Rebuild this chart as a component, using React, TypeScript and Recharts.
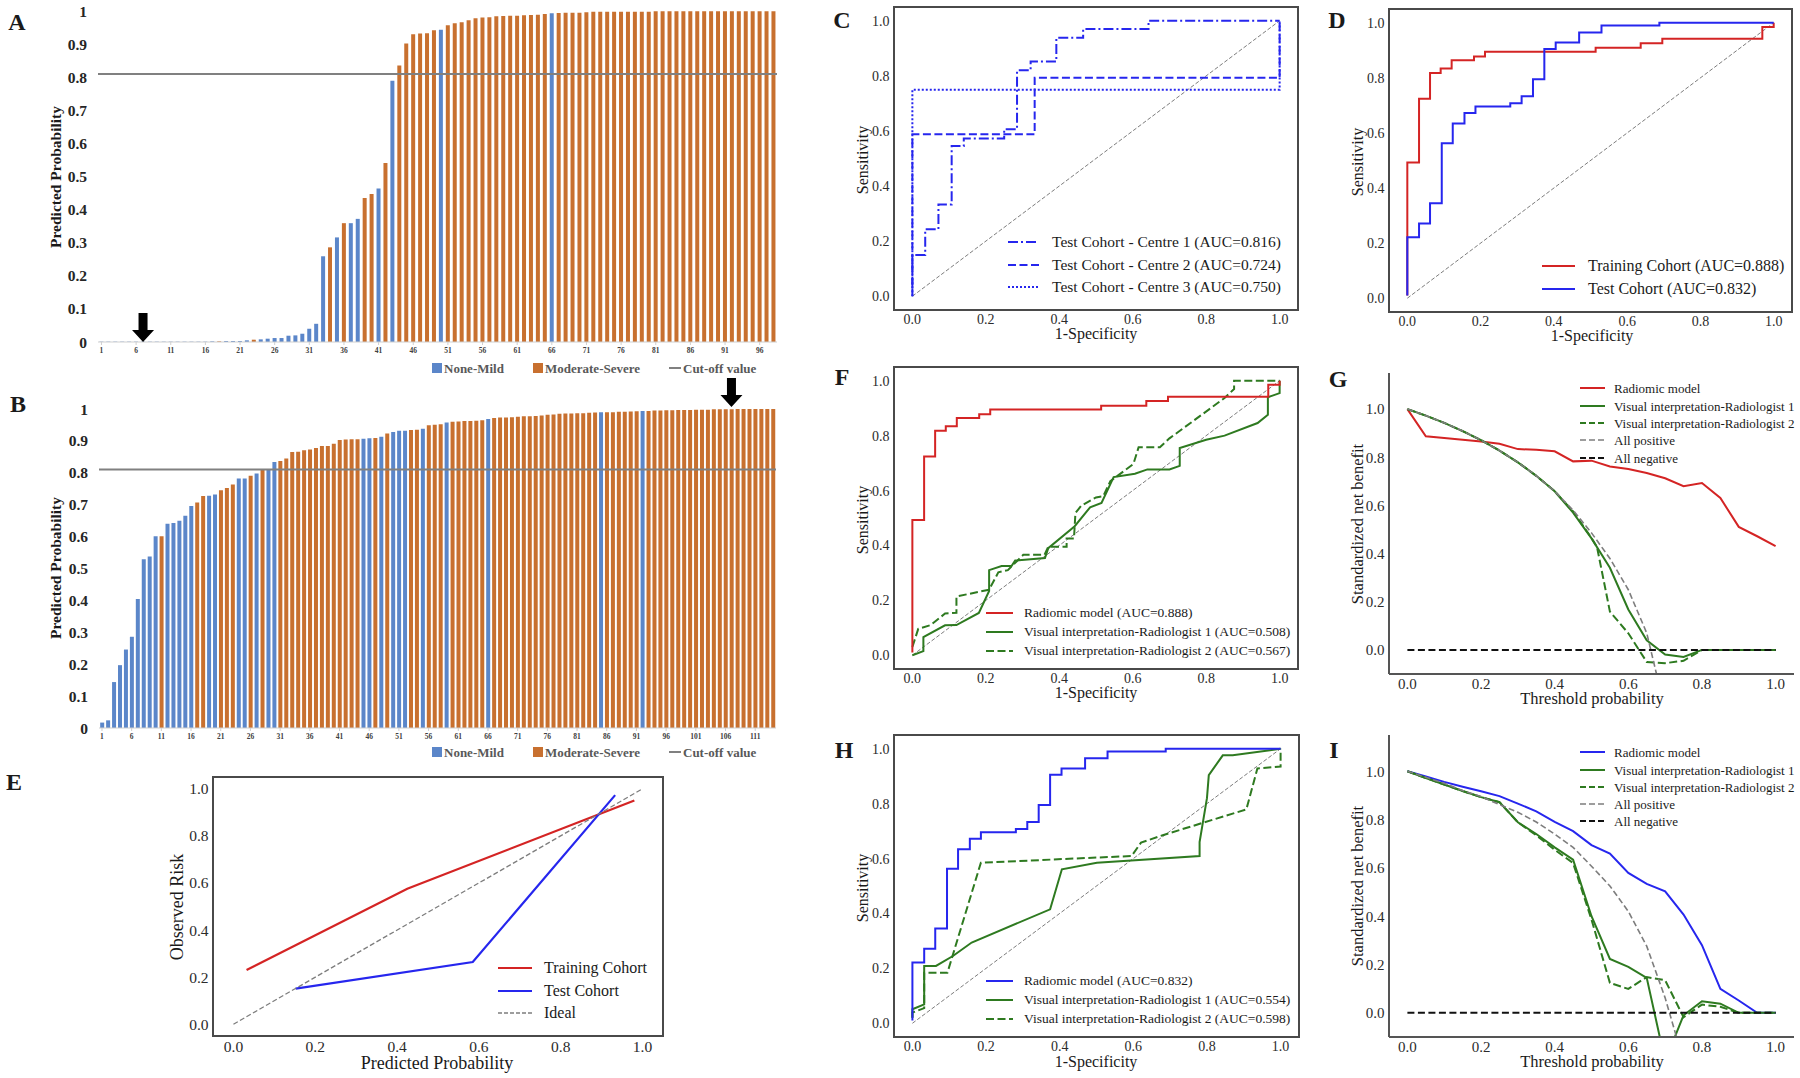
import React from 'react';
import {
  BarChart,
  Bar,
  Cell,
  LineChart,
  Line,
  XAxis,
  YAxis,
  ReferenceLine,
  ReferenceArea,
  ReferenceDot,
} from 'recharts';

const SERIF = '"Liberation Serif", "Times New Roman", Times, serif';
const BLUE_BAR = '#5b86c9';
const ORANGE_BAR = '#c8702f';
const RED = '#d42424';
const BLUE = '#2626ee';
const GREEN = '#2e7a20';
const GREY = '#7d7d7d';

// ---- A: training cohort, sorted predicted probability per patient ----
const probsA = [
  0.001, 0.001, 0.001, 0.001, 0.001, 0.001, 0.001, 0.001, 0.001, 0.001, 0.001, 0.001, 0.001, 0.001, 0.001, 0.001,
  0.002, 0.002, 0.003, 0.003, 0.003, 0.005, 0.007, 0.008, 0.01, 0.012, 0.012, 0.019, 0.02, 0.025, 0.04, 0.055,
  0.259, 0.286, 0.316, 0.359, 0.359, 0.372, 0.435, 0.447, 0.464, 0.541, 0.789, 0.835, 0.902, 0.93, 0.932, 0.933,
  0.942, 0.943, 0.957, 0.963, 0.966, 0.972, 0.978, 0.98, 0.981, 0.984, 0.985, 0.986, 0.986, 0.987, 0.988, 0.989,
  0.991, 0.993, 0.994, 0.995, 0.995, 0.995, 0.996,
  0.998, 0.998, 0.998, 0.998, 0.998, 0.998, 0.998, 0.998, 0.998,
  0.999, 0.999, 0.999, 0.999, 0.999, 0.999, 0.999, 0.999, 0.999, 0.999, 0.999, 0.999, 0.999, 0.999, 0.999, 0.999, 0.999, 0.999,
];
// 1 = Moderate-Severe, 0 = None-Mild
const classA = [
  0, 0, 0, 0, 0, 0, 0, 0, 0, 0, 0, 0, 0, 0, 0, 0,
  0, 1, 0, 0, 0, 0, 1, 0, 0, 0, 0, 0, 0, 0, 0, 0,
  0, 1, 0, 1, 0, 0, 1, 1, 0, 1, 0, 1, 1, 1, 1, 1,
  1, 0, 1, 1, 1, 1, 1, 1, 1, 1, 1, 1, 1, 1, 1, 1,
  1, 0, 1, 1, 1, 1, 1,
  1, 1, 1, 1, 1, 1, 1, 1, 1,
  1, 1, 1, 1, 1, 1, 1, 1, 1, 1, 1, 1, 1, 1, 1, 1, 1, 1,
];

// ---- B: test cohort ----
const probsB = [
  0.017, 0.024, 0.144, 0.197, 0.246, 0.286, 0.404, 0.529, 0.538, 0.601,
  0.601, 0.64, 0.643, 0.65, 0.665, 0.696, 0.707, 0.727, 0.728, 0.732,
  0.745, 0.752, 0.763, 0.782, 0.782, 0.791, 0.798, 0.809, 0.812, 0.834,
  0.837, 0.845, 0.865, 0.866, 0.871, 0.873, 0.878, 0.884, 0.884, 0.891,
  0.903, 0.904, 0.905, 0.905, 0.907, 0.908, 0.909, 0.913, 0.923, 0.928,
  0.932, 0.932, 0.934, 0.935, 0.938, 0.949, 0.951, 0.952, 0.958, 0.96,
  0.961, 0.962, 0.962, 0.963, 0.965, 0.969, 0.972, 0.973, 0.973, 0.974,
  0.976, 0.977, 0.977, 0.978, 0.98, 0.982, 0.983, 0.985, 0.986, 0.986,
  0.987, 0.987, 0.988, 0.989, 0.99, 0.99, 0.99, 0.991, 0.991, 0.992,
  0.993, 0.994, 0.994, 0.995, 0.995, 0.996, 0.996, 0.997, 0.997, 0.997,
  0.998, 0.998, 0.998, 0.999, 0.999, 0.999, 0.999, 1, 1, 1, 1, 1, 1, 1,
];
const classB = [
  0, 0, 0, 0, 0, 0, 0, 0, 0, 0,
  1, 0, 0, 0, 0, 0, 1, 1, 0, 0,
  1, 1, 1, 0, 0, 1, 0, 1, 0, 0,
  1, 1, 1, 1, 1, 1, 1, 1, 1, 1,
  1, 1, 1, 1, 0, 0, 1, 0, 1, 0,
  0, 0, 1, 1, 0, 1, 1, 1, 0, 1,
  1, 1, 1, 1, 1, 0, 1, 1, 1, 1,
  1, 1, 1, 1, 1, 1, 1, 1, 1, 1,
  1, 1, 1, 1, 0, 1, 1, 1, 1, 1,
  1, 0, 1, 1, 1, 1, 1, 1, 1, 1,
  1, 1, 1, 1, 1, 1, 1, 1, 1, 1, 1, 1, 1, 1,
];

const cutOff = 0.81;
const arrowBarA = 7;
const arrowBarB = 107;
const probTicks = [0, 0.1, 0.2, 0.3, 0.4, 0.5, 0.6, 0.7, 0.8, 0.9, 1];
const unitTicks = [0, 0.2, 0.4, 0.6, 0.8, 1];

type Pt = [number, number];

// ---- C: test cohort per centre (ROC) ----
const centre1: Pt[] = [
  [0, 0.03], [0, 0.15], [0.035, 0.15], [0.035, 0.243], [0.071, 0.243], [0.071, 0.333], [0.107, 0.333],
  [0.107, 0.545], [0.14, 0.545], [0.14, 0.573], [0.25, 0.573], [0.25, 0.606], [0.285, 0.606], [0.285, 0.82],
  [0.322, 0.82], [0.322, 0.852], [0.392, 0.852], [0.392, 0.938], [0.465, 0.938], [0.465, 0.97], [0.643, 0.97],
  [0.643, 1], [1, 1],
];
const centre2: Pt[] = [[0, 0], [0, 0.588], [0.333, 0.588], [0.333, 0.793], [1, 0.793], [1, 1]];
const centre3: Pt[] = [[0, 0], [0, 0.75], [1, 0.75], [1, 1]];
const chance: Pt[] = [[0, 0], [1, 1]];

// ---- D / F / H: radiomic model ROC ----
const trainRoc: Pt[] = [
  [0, 0.01], [0, 0.493], [0.032, 0.493], [0.032, 0.724], [0.062, 0.724], [0.062, 0.818], [0.091, 0.818],
  [0.091, 0.834], [0.121, 0.834], [0.121, 0.864], [0.182, 0.864], [0.182, 0.878], [0.212, 0.878], [0.212, 0.895],
  [0.514, 0.895], [0.514, 0.909], [0.637, 0.909], [0.637, 0.926], [0.696, 0.926], [0.696, 0.942], [0.969, 0.942],
  [0.969, 0.985], [1, 0.985], [1, 1],
];
const testRoc: Pt[] = [
  [0, 0.01], [0, 0.221], [0.032, 0.221], [0.032, 0.271], [0.062, 0.271], [0.062, 0.345], [0.094, 0.345],
  [0.094, 0.563], [0.124, 0.563], [0.124, 0.634], [0.156, 0.634], [0.156, 0.672], [0.186, 0.672], [0.186, 0.696],
  [0.281, 0.696], [0.281, 0.708], [0.312, 0.708], [0.312, 0.733], [0.343, 0.733], [0.343, 0.795], [0.374, 0.795],
  [0.374, 0.905], [0.405, 0.905], [0.405, 0.928], [0.469, 0.928], [0.469, 0.965], [0.53, 0.965], [0.53, 0.99],
  [0.688, 0.99], [0.688, 1], [1, 1],
];

// ---- F: radiologists, training cohort ----
const fReader1: Pt[] = [
  [0, 0], [0.03, 0.015], [0.03, 0.066], [0.089, 0.109], [0.12, 0.11], [0.181, 0.154], [0.209, 0.234],
  [0.209, 0.31], [0.243, 0.325], [0.27, 0.325], [0.28, 0.345], [0.361, 0.354], [0.37, 0.39], [0.442, 0.47],
  [0.484, 0.539], [0.515, 0.555], [0.548, 0.649], [0.606, 0.661], [0.64, 0.677], [0.7, 0.677], [0.728, 0.69],
  [0.728, 0.755], [0.8, 0.785], [0.85, 0.8], [0.94, 0.846], [0.968, 0.876], [0.968, 0.94], [1, 0.955], [1, 1],
];
const fReader2: Pt[] = [
  [0, 0.03], [0.016, 0.096], [0.05, 0.11], [0.089, 0.152], [0.12, 0.155], [0.12, 0.214], [0.209, 0.239],
  [0.234, 0.302], [0.26, 0.31], [0.302, 0.366], [0.36, 0.366], [0.37, 0.395], [0.42, 0.395], [0.42, 0.425],
  [0.44, 0.425], [0.444, 0.518], [0.46, 0.545], [0.5, 0.575], [0.52, 0.58], [0.539, 0.634], [0.602, 0.697],
  [0.616, 0.758], [0.674, 0.758], [0.7, 0.79], [0.85, 0.937], [0.876, 0.97], [0.876, 1], [1, 1],
];

// ---- H: radiologists, test cohort ----
const hReader1: Pt[] = [
  [0, 0.02], [0, 0.051], [0.032, 0.069], [0.032, 0.209], [0.064, 0.209], [0.11, 0.245], [0.161, 0.294],
  [0.374, 0.415], [0.406, 0.561], [0.501, 0.585], [0.78, 0.609], [0.78, 0.66], [0.8, 0.82], [0.805, 0.904],
  [0.843, 0.976], [0.87, 0.976], [1, 1],
];
const hReader2: Pt[] = [
  [0, 0.02], [0, 0.039], [0.032, 0.055], [0.032, 0.184], [0.095, 0.184], [0.186, 0.585], [0.595, 0.609],
  [0.621, 0.658], [0.68, 0.685], [0.907, 0.779], [0.937, 0.928], [1, 0.935], [1, 1],
];

// ---- E: calibration ----
const calTrain: Pt[] = [[0.032, 0.23], [0.425, 0.575], [0.98, 0.95]];
const calTest: Pt[] = [[0.152, 0.151], [0.585, 0.264], [0.933, 0.973]];

// ---- G: decision curves, training cohort ----
const gRadiomic: Pt[] = [
  [0, 1], [0.05, 0.887], [0.1, 0.88], [0.15, 0.873], [0.2, 0.866], [0.25, 0.856], [0.3, 0.834], [0.35, 0.831],
  [0.4, 0.825], [0.45, 0.783], [0.5, 0.786], [0.55, 0.762], [0.6, 0.751], [0.65, 0.735], [0.7, 0.713],
  [0.75, 0.68], [0.8, 0.693], [0.85, 0.631], [0.9, 0.511], [0.95, 0.472], [1, 0.431],
];
const gAllPos: Pt[] = [
  [0, 1], [0.05, 0.973], [0.1, 0.943], [0.15, 0.909], [0.2, 0.871], [0.25, 0.828], [0.3, 0.779], [0.35, 0.723],
  [0.4, 0.659], [0.45, 0.58], [0.5, 0.486], [0.55, 0.38], [0.6, 0.25], [0.65, 0.07], [0.7, -0.25],
];
const gReader1: Pt[] = [
  [0, 1], [0.05, 0.973], [0.1, 0.943], [0.15, 0.909], [0.2, 0.871], [0.25, 0.828], [0.3, 0.779], [0.35, 0.723],
  [0.4, 0.659], [0.45, 0.57], [0.5, 0.463], [0.55, 0.341], [0.6, 0.168], [0.65, 0.04], [0.7, -0.019],
  [0.75, -0.029], [0.8, 0], [0.85, 0], [0.9, 0], [0.95, 0], [1, 0],
];
const gReader2: Pt[] = [
  [0, 1], [0.05, 0.973], [0.1, 0.943], [0.15, 0.909], [0.2, 0.871], [0.25, 0.828], [0.3, 0.779], [0.35, 0.723],
  [0.4, 0.659], [0.45, 0.575], [0.5, 0.465], [0.515, 0.427], [0.55, 0.159], [0.6, 0.069], [0.65, -0.05],
  [0.7, -0.055], [0.75, -0.045], [0.8, 0], [0.85, 0], [0.9, 0], [0.95, 0], [1, 0],
];
const allNegative: Pt[] = [[0, 0], [1, 0]];

// ---- I: decision curves, test cohort ----
const iRadiomic: Pt[] = [
  [0, 1], [0.05, 0.978], [0.1, 0.956], [0.15, 0.936], [0.2, 0.917], [0.25, 0.897], [0.3, 0.866], [0.35, 0.834],
  [0.4, 0.79], [0.45, 0.752], [0.5, 0.694], [0.55, 0.659], [0.6, 0.579], [0.65, 0.534], [0.7, 0.503],
  [0.75, 0.407], [0.8, 0.28], [0.85, 0.099], [0.9, 0.051], [0.95, 0], [1, 0],
];
const iAllPos: Pt[] = [
  [0, 1], [0.05, 0.975], [0.1, 0.95], [0.15, 0.92], [0.2, 0.895], [0.25, 0.862], [0.3, 0.83], [0.35, 0.79],
  [0.4, 0.74], [0.45, 0.685], [0.5, 0.607], [0.55, 0.525], [0.6, 0.42], [0.65, 0.276], [0.7, 0.062], [0.75, -0.2],
];
const iReader1: Pt[] = [
  [0, 1], [0.05, 0.972], [0.1, 0.945], [0.15, 0.918], [0.2, 0.893], [0.25, 0.872], [0.3, 0.789], [0.35, 0.74],
  [0.4, 0.685], [0.45, 0.634], [0.5, 0.4], [0.55, 0.223], [0.6, 0.19], [0.65, 0.145], [0.7, -0.2],
  [0.75, -0.01], [0.8, 0.048], [0.85, 0.038], [0.9, 0], [0.95, 0], [1, 0],
];
const iReader2: Pt[] = [
  [0, 1], [0.05, 0.972], [0.1, 0.945], [0.15, 0.918], [0.2, 0.893], [0.25, 0.872], [0.3, 0.789], [0.35, 0.735],
  [0.4, 0.675], [0.45, 0.62], [0.5, 0.386], [0.55, 0.124], [0.6, 0.099], [0.65, 0.148], [0.7, 0.135],
  [0.75, -0.018], [0.8, 0.034], [0.85, 0.025], [0.9, 0], [0.95, 0], [1, 0],
];

const DASH_DOT = '10 3 2 3';
const DASHED = '8 3.5';
const DOTTED = '2 2';
const THIN_DASH = '4 2';

type Series = { pts: Pt[]; color: string; width?: number; dash?: string };

const toXY = (pts: Pt[]) => pts.map(([x, y]) => ({ x, y }));
const fmt1 = (v: number) => v.toFixed(1);
const fmtProb = (v: number) => (v === 0 || v === 1 ? String(v) : v.toFixed(1));

function Txt({
  x, y, size, children, bold = false, rotate = false, anchor = 'middle', color = '#1a1a1a',
}: {
  x: number; y: number; size: number; children: React.ReactNode; bold?: boolean; rotate?: boolean;
  anchor?: 'start' | 'middle' | 'end'; color?: string;
}) {
  const tx = anchor === 'start' ? '0%' : anchor === 'end' ? '-100%' : '-50%';
  return (
    <div
      style={{
        position: 'absolute', left: x, top: y,
        transform: `translate(${tx}, -50%)` + (rotate ? ' rotate(-90deg)' : ''),
        fontFamily: SERIF, fontSize: size, fontWeight: bold ? 700 : 400, color,
        lineHeight: 1, whiteSpace: 'nowrap',
      }}
    >
      {children}
    </div>
  );
}

function KeyLine({ x, y, len, color, width = 2, dash }: { x: number; y: number; len: number; color: string; width?: number; dash?: string }) {
  return (
    <svg style={{ position: 'absolute', left: x, top: y - 6 }} width={len} height={12}>
      <line x1={0} y1={6} x2={len} y2={6} stroke={color} strokeWidth={width} strokeDasharray={dash} />
    </svg>
  );
}

function KeyList({ x, len, textX, rows, size, items }: {
  x: number; len: number; textX: number; rows: number[]; size: number;
  items: { label: string; color: string; width?: number; dash?: string }[];
}) {
  return (
    <>
      {items.map((it, i) => (
        <React.Fragment key={it.label}>
          <KeyLine x={x} y={rows[i]} len={len} color={it.color} width={it.width} dash={it.dash} />
          <Txt x={textX} y={rows[i]} size={size} anchor="start">{it.label}</Txt>
        </React.Fragment>
      ))}
    </>
  );
}

function ClassLegend({ y }: { y: number }) {
  const c = '#595959';
  return (
    <>
      <div style={{ position: 'absolute', left: 432, top: y - 5, width: 10, height: 10, background: BLUE_BAR }} />
      <Txt x={444} y={y} size={13} bold anchor="start" color={c}>None-Mild</Txt>
      <div style={{ position: 'absolute', left: 533, top: y - 5, width: 10, height: 10, background: ORANGE_BAR }} />
      <Txt x={545} y={y} size={13} bold anchor="start" color={c}>Moderate-Severe</Txt>
      <KeyLine x={669} y={y} len={12} color="#808080" />
      <Txt x={683} y={y} size={13} bold anchor="start" color={c}>Cut-off value</Txt>
    </>
  );
}

function DownArrow({ cx, cy }: { cx: number; cy: number }) {
  const tip = cy;
  const pts = [
    [cx - 4.5, tip - 29], [cx + 4.5, tip - 29], [cx + 4.5, tip - 12], [cx + 11, tip - 12],
    [cx, tip], [cx - 11, tip - 12], [cx - 4.5, tip - 12],
  ];
  return <polygon points={pts.map((p) => p.join(',')).join(' ')} fill="#000" />;
}

function BarPanel({
  x0, y0, x1, y1, probs, classes, arrowAt, arrowY, arrowLift, padT,
}: {
  x0: number; y0: number; x1: number; y1: number; probs: number[]; classes: number[];
  arrowAt: number; arrowY: number; arrowLift: number; padT: number;
}) {
  const padL = 44, padR = 4, padB = 18;
  const rows = probs.map((p, i) => ({ n: i + 1, p, c: classes[i] }));
  return (
    <div style={{ position: 'absolute', left: x0 - padL, top: y0 - padT }}>
      <BarChart
        width={x1 - x0 + padL + padR}
        height={y1 - y0 + padT + padB}
        data={rows}
        margin={{ top: padT, right: padR, bottom: 0, left: 0 }}
        barCategoryGap="20%"
      >
        <XAxis
          dataKey="n"
          interval={4}
          height={padB}
          tick={{ fontFamily: SERIF, fontSize: 7.5, fontWeight: 700, fill: '#404040' }}
          tickSize={3}
          tickMargin={3}
          axisLine={{ stroke: '#cfcfcf' }}
          tickLine={{ stroke: '#cfcfcf' }}
        />
        <YAxis
          type="number"
          domain={[0, 1]}
          ticks={probTicks}
          tickFormatter={fmtProb}
          width={padL}
          axisLine={false}
          tickLine={false}
          tickSize={0}
          tickMargin={11}
          tick={{ fontFamily: SERIF, fontSize: 15.5, fontWeight: 700, fill: '#262626' }}
        />
        <Bar dataKey="p" isAnimationActive={false}>
          {rows.map((r) => (
            <Cell key={r.n} fill={r.c ? ORANGE_BAR : BLUE_BAR} />
          ))}
        </Bar>
        <ReferenceLine y={cutOff} stroke="#808080" strokeWidth={2} />
        <ReferenceDot
          x={arrowAt}
          y={arrowY}
          ifOverflow="visible"
          shape={(p: any) => <DownArrow cx={p.cx} cy={p.cy - arrowLift} />}
        />
      </BarChart>
    </div>
  );
}

function LinePanel({
  x0, y0, x1, y1, series, yDomain = [-0.05, 1.05], frame = true, font = 14,
}: {
  x0: number; y0: number; x1: number; y1: number; series: Series[];
  yDomain?: [number, number]; frame?: boolean; font?: number;
}) {
  const padL = 46, padT = 8, padR = 5, padB = 26;
  const tick = { fontFamily: SERIF, fontSize: font, fill: '#2b2b2b' };
  const spine = frame ? false : { stroke: '#555', strokeWidth: 2 };
  return (
    <div style={{ position: 'absolute', left: x0 - padL, top: y0 - padT }}>
      <LineChart
        width={x1 - x0 + padL + padR}
        height={y1 - y0 + padT + padB}
        margin={{ top: padT, right: padR, bottom: 0, left: 0 }}
      >
        <XAxis
          type="number"
          dataKey="x"
          domain={[-0.05, 1.05]}
          ticks={unitTicks}
          allowDataOverflow
          tickFormatter={fmt1}
          height={padB}
          tick={tick}
          tickSize={3.5}
          tickMargin={1}
          axisLine={spine}
          tickLine={false}
        />
        <YAxis
          type="number"
          domain={yDomain}
          ticks={unitTicks}
          allowDataOverflow
          tickFormatter={fmt1}
          width={padL}
          tick={tick}
          tickSize={3.5}
          tickMargin={1}
          axisLine={spine}
          tickLine={false}
        />
        {frame && (
          <ReferenceArea
            x1={-0.05}
            x2={1.05}
            y1={yDomain[0]}
            y2={yDomain[1]}
            fill="none"
            fillOpacity={0}
            stroke="#4a4a4a"
            strokeWidth={2}
            ifOverflow="visible"
          />
        )}
        {series.map((s, i) => (
          <Line
            key={i}
            data={toXY(s.pts)}
            dataKey="y"
            type="linear"
            stroke={s.color}
            strokeWidth={s.width ?? 2}
            strokeDasharray={s.dash}
            dot={false}
            activeDot={false}
            isAnimationActive={false}
          />
        ))}
      </LineChart>
    </div>
  );
}

const diag: Series = { pts: chance, color: GREY, width: 1, dash: THIN_DASH };

export default function App() {
  return (
    <div
      style={{
        position: 'absolute', left: 0, top: 0, width: 1800, height: 1078,
        background: '#fff', overflow: 'hidden', fontFamily: SERIF,
      }}
    >
      {/* A */}
      <BarPanel x0={98} y0={11} x1={777} y1={342} probs={probsA} classes={classA}
        arrowAt={arrowBarA} arrowY={0} arrowLift={0} padT={10} />
      <Txt x={17} y={22} size={24} bold>A</Txt>
      <Txt x={56} y={177} size={15.5} bold rotate>Predicted Probability</Txt>
      <ClassLegend y={368} />

      {/* B */}
      <BarPanel x0={99} y0={409} x1={776} y1={728} probs={probsB} classes={classB}
        arrowAt={arrowBarB} arrowY={1} arrowLift={2} padT={34} />
      <Txt x={18} y={404} size={24} bold>B</Txt>
      <Txt x={56} y={568} size={15.5} bold rotate>Predicted Probability</Txt>
      <ClassLegend y={752} />

      {/* E */}
      <LinePanel x0={213} y0={777} x1={663} y1={1036} font={15.5}
        series={[
          { pts: calTrain, color: RED, width: 2.2 },
          { pts: calTest, color: BLUE, width: 2.2 },
          { pts: chance, color: GREY, width: 1.3, dash: '5 2.5' },
        ]} />
      <Txt x={14} y={782} size={24} bold>E</Txt>
      <Txt x={177} y={907} size={18} rotate>Observed Risk</Txt>
      <Txt x={437} y={1063} size={18}>Predicted Probability</Txt>
      <KeyList x={498} len={34} textX={544} rows={[968, 991, 1013]} size={16}
        items={[
          { label: 'Training Cohort', color: RED, width: 2.2 },
          { label: 'Test Cohort', color: BLUE, width: 2.2 },
          { label: 'Ideal', color: GREY, width: 1.5, dash: '4 2' },
        ]} />

      {/* C */}
      <LinePanel x0={894} y0={7} x1={1298} y1={310}
        series={[
          diag,
          { pts: centre1, color: BLUE, dash: DASH_DOT },
          { pts: centre2, color: BLUE, dash: DASHED },
          { pts: centre3, color: BLUE, dash: DOTTED },
        ]} />
      <Txt x={842} y={20} size={24} bold>C</Txt>
      <Txt x={863} y={160} size={16} rotate>Sensitivity</Txt>
      <Txt x={1096} y={334} size={16}>1-Specificity</Txt>
      <KeyList x={1008} len={31} textX={1052} rows={[242, 265, 287]} size={15.5}
        items={[
          { label: 'Test Cohort - Centre 1 (AUC=0.816)', color: BLUE, dash: DASH_DOT },
          { label: 'Test Cohort - Centre 2 (AUC=0.724)', color: BLUE, dash: DASHED },
          { label: 'Test Cohort - Centre 3 (AUC=0.750)', color: BLUE, dash: DOTTED },
        ]} />

      {/* D */}
      <LinePanel x0={1389} y0={9} x1={1792} y1={312}
        series={[
          diag,
          { pts: trainRoc, color: RED },
          { pts: testRoc, color: BLUE },
        ]} />
      <Txt x={1337} y={20} size={24} bold>D</Txt>
      <Txt x={1358} y={162} size={16} rotate>Sensitivity</Txt>
      <Txt x={1592} y={336} size={16}>1-Specificity</Txt>
      <KeyList x={1542} len={33} textX={1588} rows={[266, 289]} size={16}
        items={[
          { label: 'Training Cohort (AUC=0.888)', color: RED },
          { label: 'Test Cohort (AUC=0.832)', color: BLUE },
        ]} />

      {/* F */}
      <LinePanel x0={894} y0={367} x1={1298} y1={669}
        series={[
          diag,
          { pts: fReader1, color: GREEN },
          { pts: fReader2, color: GREEN, dash: DASHED },
          { pts: trainRoc, color: RED },
        ]} />
      <Txt x={842} y={377} size={24} bold>F</Txt>
      <Txt x={863} y={520} size={16} rotate>Sensitivity</Txt>
      <Txt x={1096} y={693} size={16}>1-Specificity</Txt>
      <KeyList x={986} len={27} textX={1024} rows={[613, 632, 651]} size={13.5}
        items={[
          { label: 'Radiomic model (AUC=0.888)', color: RED },
          { label: 'Visual interpretation-Radiologist 1 (AUC=0.508)', color: GREEN },
          { label: 'Visual interpretation-Radiologist 2 (AUC=0.567)', color: GREEN, dash: DASHED },
        ]} />

      {/* G */}
      <LinePanel x0={1389} y0={373} x1={1794} y1={674} yDomain={[-0.1, 1.15]} frame={false} font={15}
        series={[
          { pts: gRadiomic, color: RED },
          { pts: gReader1, color: GREEN },
          { pts: gReader2, color: GREEN, dash: DASHED },
          { pts: gAllPos, color: GREY, width: 1.6, dash: '6 3' },
          { pts: allNegative, color: '#111', dash: '7 3.5' },
        ]} />
      <Txt x={1338} y={379} size={24} bold>G</Txt>
      <Txt x={1358} y={524} size={16.5} rotate>Standardized net benefit</Txt>
      <Txt x={1592} y={699} size={16.5}>Threshold probability</Txt>
      <KeyList x={1580} len={25} textX={1614} rows={[388, 406, 423, 440, 458]} size={13}
        items={[
          { label: 'Radiomic model', color: RED },
          { label: 'Visual interpretation-Radiologist 1', color: GREEN },
          { label: 'Visual interpretation-Radiologist 2', color: GREEN, dash: '6 3' },
          { label: 'All positive', color: GREY, width: 1.6, dash: '6 3' },
          { label: 'All negative', color: '#111', dash: '6 3' },
        ]} />

      {/* H */}
      <LinePanel x0={894} y0={735} x1={1299} y1={1037}
        series={[
          diag,
          { pts: hReader1, color: GREEN },
          { pts: hReader2, color: GREEN, dash: DASHED },
          { pts: testRoc, color: BLUE },
        ]} />
      <Txt x={844} y={750} size={24} bold>H</Txt>
      <Txt x={863} y={888} size={16} rotate>Sensitivity</Txt>
      <Txt x={1096} y={1062} size={16}>1-Specificity</Txt>
      <KeyList x={986} len={27} textX={1024} rows={[981, 1000, 1019]} size={13.5}
        items={[
          { label: 'Radiomic model (AUC=0.832)', color: BLUE },
          { label: 'Visual interpretation-Radiologist 1 (AUC=0.554)', color: GREEN },
          { label: 'Visual interpretation-Radiologist 2 (AUC=0.598)', color: GREEN, dash: DASHED },
        ]} />

      {/* I */}
      <LinePanel x0={1389} y0={735} x1={1794} y1={1037} yDomain={[-0.1, 1.15]} frame={false} font={15}
        series={[
          { pts: iRadiomic, color: BLUE },
          { pts: iReader1, color: GREEN },
          { pts: iReader2, color: GREEN, dash: DASHED },
          { pts: iAllPos, color: GREY, width: 1.6, dash: '6 3' },
          { pts: allNegative, color: '#111', dash: '7 3.5' },
        ]} />
      <Txt x={1334} y={750} size={24} bold>I</Txt>
      <Txt x={1358} y={886} size={16.5} rotate>Standardized net benefit</Txt>
      <Txt x={1592} y={1062} size={16.5}>Threshold probability</Txt>
      <KeyList x={1580} len={25} textX={1614} rows={[752, 770, 787, 804, 821]} size={13}
        items={[
          { label: 'Radiomic model', color: BLUE },
          { label: 'Visual interpretation-Radiologist 1', color: GREEN },
          { label: 'Visual interpretation-Radiologist 2', color: GREEN, dash: '6 3' },
          { label: 'All positive', color: GREY, width: 1.6, dash: '6 3' },
          { label: 'All negative', color: '#111', dash: '6 3' },
        ]} />
    </div>
  );
}
